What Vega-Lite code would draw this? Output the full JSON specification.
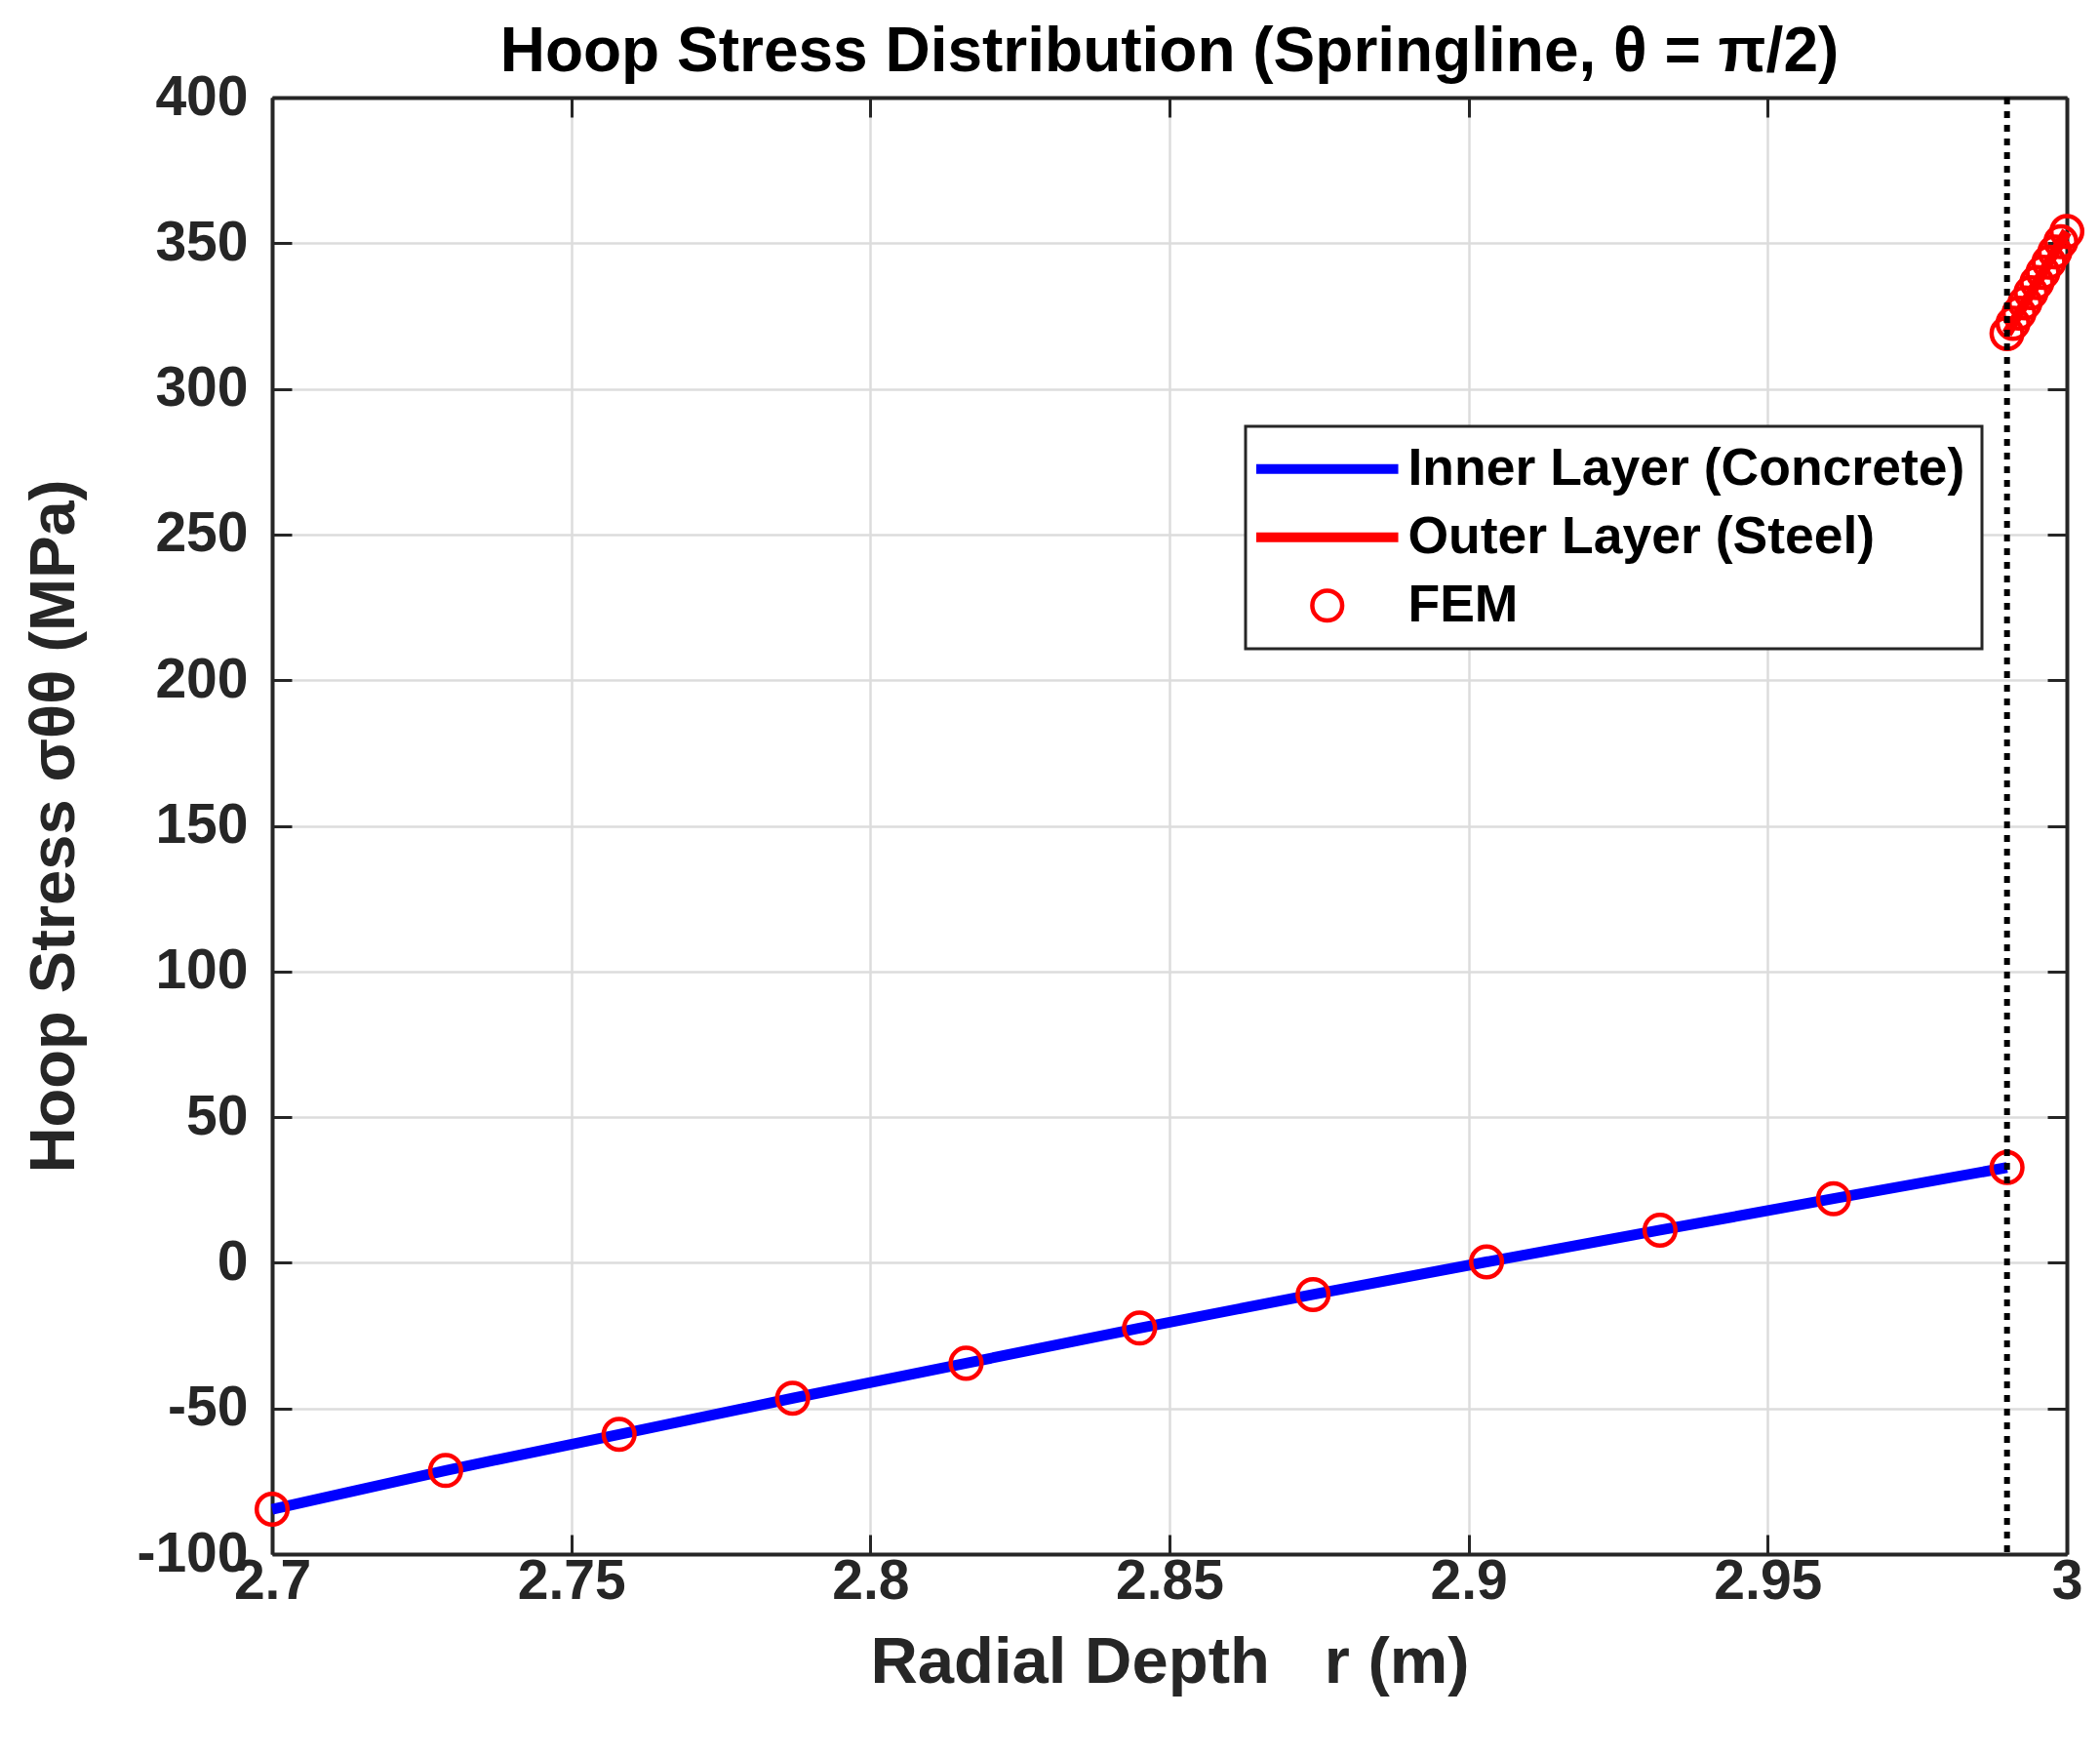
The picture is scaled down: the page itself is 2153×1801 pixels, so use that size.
{
  "$schema": "https://vega.github.io/schema/vega-lite/v6.json",
  "width": 1840,
  "height": 1493,
  "autosize": {"type": "none"},
  "padding": {"left": 279, "top": 100, "right": 34, "bottom": 208},
  "background": "white",
  "title": {
    "text": "Hoop Stress Distribution (Springline, θ = π/2)",
    "font": "Liberation Sans",
    "fontSize": 64,
    "fontWeight": "bold",
    "color": "#000000",
    "anchor": "middle",
    "baseline": "alphabetic",
    "offset": 24,
    "dy": 90
  },
  "config": {
    "view": {"stroke": null},
    "axis": {
      "labelFont": "Liberation Sans",
      "labelFontSize": 57,
      "labelFontWeight": "bold",
      "labelColor": "#262626",
      "titleFont": "Liberation Sans",
      "titleFontWeight": "bold",
      "titleColor": "#262626",
      "domainColor": "#262626",
      "domainWidth": 4,
      "tickColor": "#262626",
      "tickWidth": 3,
      "tickSize": -20,
      "gridColor": "#dcdcdc",
      "gridWidth": 2.5,
      "labelFlush": false,
      "labelOverlap": false
    }
  },
  "datasets": {
    "analytic": [
      {"r": 2.7, "stress": -84.6, "series": "Inner Layer (Concrete)"},
      {"r": 2.729, "stress": -71.3, "series": "Inner Layer (Concrete)"},
      {"r": 2.758, "stress": -58.9, "series": "Inner Layer (Concrete)"},
      {"r": 2.787, "stress": -46.5, "series": "Inner Layer (Concrete)"},
      {"r": 2.816, "stress": -34.5, "series": "Inner Layer (Concrete)"},
      {"r": 2.845, "stress": -22.4, "series": "Inner Layer (Concrete)"},
      {"r": 2.874, "stress": -10.9, "series": "Inner Layer (Concrete)"},
      {"r": 2.903, "stress": 0.3, "series": "Inner Layer (Concrete)"},
      {"r": 2.932, "stress": 11.2, "series": "Inner Layer (Concrete)"},
      {"r": 2.961, "stress": 22.0, "series": "Inner Layer (Concrete)"},
      {"r": 2.99, "stress": 32.7, "series": "Inner Layer (Concrete)"},
      {"r": 2.99, "stress": 319.0, "series": "Outer Layer (Steel)"},
      {"r": 2.995, "stress": 336.5, "series": "Outer Layer (Steel)"},
      {"r": 3.0, "stress": 354.0, "series": "Outer Layer (Steel)"}
    ],
    "fem": [
      {"r": 2.7, "stress": -84.6},
      {"r": 2.729, "stress": -71.3},
      {"r": 2.758, "stress": -58.9},
      {"r": 2.787, "stress": -46.5},
      {"r": 2.816, "stress": -34.5},
      {"r": 2.845, "stress": -22.4},
      {"r": 2.874, "stress": -10.9},
      {"r": 2.903, "stress": 0.3},
      {"r": 2.932, "stress": 11.2},
      {"r": 2.961, "stress": 22.0},
      {"r": 2.99, "stress": 32.7},
      {"r": 2.99, "stress": 319.0},
      {"r": 2.991, "stress": 322.5},
      {"r": 2.992, "stress": 326.0},
      {"r": 2.993, "stress": 329.5},
      {"r": 2.994, "stress": 333.0},
      {"r": 2.995, "stress": 336.5},
      {"r": 2.996, "stress": 340.0},
      {"r": 2.997, "stress": 343.5},
      {"r": 2.998, "stress": 347.0},
      {"r": 2.999, "stress": 350.5},
      {"r": 3.0, "stress": 354.0}
    ],
    "interface": [
      {"r": 2.99}
    ]
  },
  "resolve": {"axis": {"x": "independent", "y": "independent"}},
  "layer": [
    {
      "data": {"name": "analytic"},
      "mark": {"type": "line", "strokeWidth": 11},
      "encoding": {
        "x": {
          "field": "r",
          "type": "quantitative",
          "scale": {"domain": [2.7, 3.0], "nice": false, "zero": false},
          "axis": {
            "orient": "bottom",
            "title": "Radial Depth\u00a0\u00a0 r (m)",
            "titleFontSize": 67,
            "titlePadding": 22,
            "values": [2.7, 2.75, 2.8, 2.85, 2.9, 2.95, 3.0],
            "labelExpr": "toString(datum.value)",
            "labelPadding": 20,
            "grid": true
          }
        },
        "y": {
          "field": "stress",
          "type": "quantitative",
          "scale": {"domain": [-100, 400], "nice": false, "zero": false},
          "axis": {
            "orient": "left",
            "title": "Hoop Stress σθθ (MPa)",
            "titleFontSize": 65,
            "titlePadding": 50,
            "values": [-100, -50, 0, 50, 100, 150, 200, 250, 300, 350, 400],
            "labelExpr": "toString(datum.value)",
            "labelPadding": 45,
            "grid": true
          }
        },
        "color": {
          "field": "series",
          "type": "nominal",
          "scale": {
            "domain": ["Inner Layer (Concrete)", "Outer Layer (Steel)", "FEM"],
            "range": ["#0000ff", "#ff0000", "#ff0000"]
          },
          "legend": {
            "title": null,
            "orient": "none",
            "legendX": 998,
            "legendY": 337,
            "padding": 17,
            "strokeColor": "#262626",
            "fillColor": "#ffffff",
            "labelFont": "Liberation Sans",
            "labelFontSize": 53.5,
            "labelFontWeight": "bold",
            "labelColor": "#000000",
            "labelLimit": 1200,
            "labelOffset": 56,
            "symbolOffset": 40,
            "symbolSize": 2704,
            "symbolStrokeWidth": 10,
            "rowPadding": 15,
            "encode": {
              "legend": {"update": {"strokeWidth": {"value": 3}}},
              "symbols": {
                "update": {
                  "shape": {"signal": "datum.value === 'FEM' ? 'M0.59,0A0.59,0.59,0,1,1,-0.59,0A0.59,0.59,0,1,1,0.59,0Z' : 'M-2.8,0H2.8'"},
                  "stroke": {"signal": "datum.value === 'Inner Layer (Concrete)' ? '#0000ff' : '#ff0000'"},
                  "strokeWidth": {"signal": "datum.value === 'FEM' ? 4.5 : 10"},
                  "fill": {"value": "transparent"},
                  "opacity": {"value": 1}
                }
              }
            }
          }
        }
      }
    },
    {
      "data": {"name": "fem"},
      "mark": {"type": "point", "filled": false, "stroke": "#ff0000", "strokeWidth": 4.5, "size": 1000, "opacity": 1},
      "encoding": {
        "x": {
          "field": "r",
          "type": "quantitative",
          "axis": {
            "orient": "top",
            "title": null,
            "labels": false,
            "grid": false,
            "values": [2.7, 2.75, 2.8, 2.85, 2.9, 2.95, 3.0]
          }
        },
        "y": {
          "field": "stress",
          "type": "quantitative",
          "axis": {
            "orient": "right",
            "title": null,
            "labels": false,
            "grid": false,
            "values": [-100, -50, 0, 50, 100, 150, 200, 250, 300, 350, 400]
          }
        }
      }
    },
    {
      "data": {"name": "interface"},
      "mark": {"type": "rule", "stroke": "#000000", "strokeWidth": 6, "strokeDash": [7, 7]},
      "encoding": {
        "x": {"field": "r", "type": "quantitative", "axis": null}
      }
    }
  ]
}
